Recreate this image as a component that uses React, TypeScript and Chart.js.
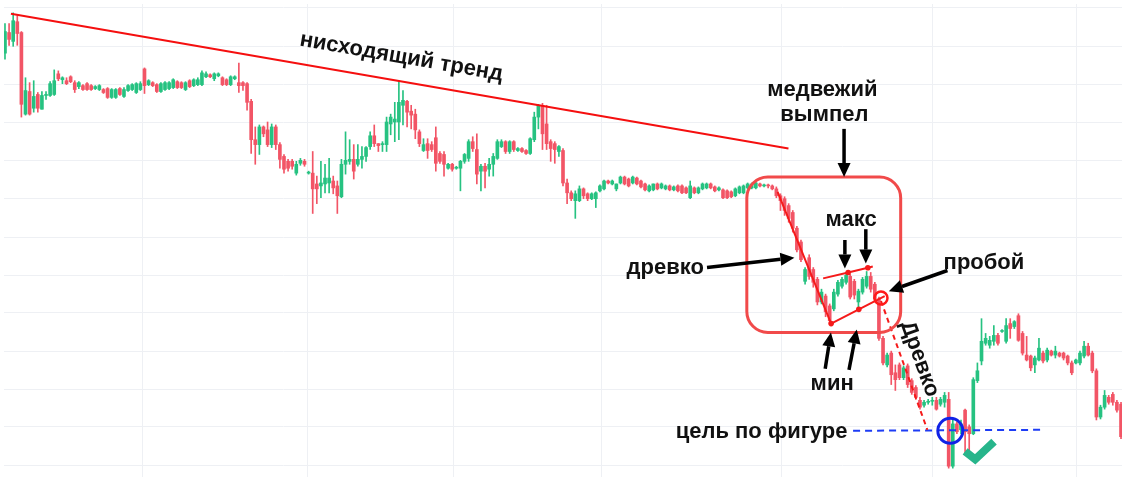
import React, { useEffect, useRef } from 'react';
import { Chart, registerables } from 'chart.js';

Chart.register(...registerables);

// ---- candle data (price units) ----
const opens = [
  430, 451, 442, 462, 451, 368, 391, 374, 388, 373,
  387, 387, 388, 409, 403, 402, 406, 400, 396, 397,
  399, 397, 394, 393, 393, 394, 385, 385, 394, 386,
  392, 393, 390, 393, 414, 398, 400, 398, 391, 393,
  394, 395, 401, 400, 393, 402, 397, 398, 398, 406,
  408, 404, 407, 405, 403, 398, 404, 400, 400, 399,
  381, 342, 337, 355, 352, 337, 355, 337, 325, 320,
  320, 308, 318, 320, 308, 308, 297, 295, 297, 298,
  300, 295, 284, 317, 320, 322, 317, 322, 325, 335,
  346, 338, 337, 337, 358, 360, 360, 377, 381, 371,
  368, 350, 331, 338, 337, 344, 328, 327, 313, 317,
  313, 313, 320, 323, 340, 332, 310, 315, 312, 317,
  323, 335, 340, 330, 340, 331, 333, 331, 328, 342,
  365, 377, 358, 340, 338, 330, 331, 298, 288, 280,
  280, 292, 287, 282, 282, 290, 292, 300, 297, 292,
  298, 304, 302, 298, 303, 300, 297, 290, 291, 297,
  293, 292, 295, 291, 295, 295, 293, 283, 293, 288,
  292, 293, 297, 294, 291, 291, 290, 289, 285, 288,
  288, 293, 293, 293, 297, 295, 296, 295, 292, 285,
  282, 275, 268, 252, 238, 198, 222, 210, 200, 177,
  183, 173, 170, 185, 193, 197, 203, 198, 177, 187,
  193, 203, 195, 180, 140, 113, 125, 105, 113, 100,
  112, 97, 90, 77, 72, 75, 76, 77, 73, 75,
  78, 10, 53, 47, 67, 50, 43, 97, 117, 135,
  133, 137, 143, 147, 137, 155, 152, 163, 145, 123,
  122, 113, 118, 125, 118, 127, 123, 125, 125, 122,
  115, 115, 115, 122, 132, 125, 107, 60, 70, 80,
  83, 75, 73,
];
const closes = [
  452, 444, 463, 450, 378, 392, 368, 386, 374, 387,
  388, 399, 402, 404, 405, 399, 401, 393, 400, 393,
  393, 393, 396, 397, 390, 385, 393, 393, 388, 393,
  397, 398, 399, 399, 397, 402, 397, 391, 399, 400,
  400, 403, 395, 395, 400, 396, 403, 403, 410, 409,
  406, 409, 409, 398, 398, 406, 406, 397, 397, 380,
  342, 337, 355, 348, 337, 355, 337, 322, 312, 313,
  315, 317, 321, 317, 309, 292, 292, 298, 303, 303,
  293, 285, 317, 321, 322, 310, 322, 325, 334, 346,
  338, 336, 338, 360, 365, 363, 380, 382, 370, 367,
  352, 338, 337, 331, 332, 318, 320, 317, 317, 312,
  314, 320, 327, 340, 333, 307, 315, 310, 317, 325,
  340, 340, 330, 340, 332, 333, 330, 328, 343, 365,
  377, 348, 338, 333, 332, 335, 298, 288, 282, 287,
  292, 285, 282, 287, 288, 295, 300, 298, 300, 297,
  304, 297, 295, 304, 297, 294, 291, 295, 297, 292,
  297, 295, 291, 294, 290, 288, 288, 295, 288, 293,
  297, 297, 293, 290, 293, 283, 283, 284, 292, 294,
  295, 297, 297, 298, 295, 296, 295, 292, 285, 280,
  270, 262, 252, 230, 220, 210, 203, 197, 177, 187,
  167, 158, 187, 197, 200, 204, 182, 184, 188, 200,
  203, 190, 180, 140, 115, 123, 103, 98, 100, 110,
  93, 85, 80, 70, 75, 76, 77, 68, 78, 82,
  10, 53, 45, 53, 45, 43, 98, 107, 137, 140,
  138, 143, 135, 148, 153, 150, 157, 138, 125, 118,
  110, 120, 130, 117, 128, 123, 127, 122, 120, 115,
  105, 118, 125, 132, 123, 107, 60, 70, 82, 75,
  75, 67, 40,
];
const highs = [
  460, 460, 471, 468, 452, 405, 400, 402, 390, 391,
  391, 401, 413, 412, 406, 405, 407, 402, 401, 398,
  400, 398, 397, 398, 394, 395, 394, 394, 395, 395,
  398, 399, 400, 401, 415, 403, 401, 399, 400, 401,
  401, 404, 402, 401, 401, 403, 404, 405, 412, 411,
  409, 410, 410, 406, 404, 407, 407, 420, 401, 400,
  383, 355, 357, 356, 360, 358, 357, 339, 327, 322,
  322, 320, 323, 322, 310, 330, 305, 320, 317, 323,
  305, 300, 322, 350, 342, 337, 337, 335, 335, 350,
  357, 338, 340, 365, 368, 380, 402, 392, 382, 377,
  373, 352, 343, 343, 340, 355, 330, 330, 318, 318,
  315, 321, 328, 342, 345, 348, 317, 318, 323, 328,
  342, 342, 341, 341, 341, 334, 334, 332, 344, 370,
  378, 379, 377, 342, 340, 336, 333, 302, 290, 290,
  295, 293, 288, 288, 289, 296, 301, 301, 301, 297,
  305, 305, 303, 305, 304, 301, 298, 296, 297, 298,
  298, 296, 296, 295, 296, 296, 294, 300, 294, 294,
  298, 298, 298, 295, 294, 292, 291, 290, 293, 295,
  296, 298, 298, 299, 298, 297, 297, 296, 294, 287,
  284, 277, 270, 254, 240, 212, 225, 212, 202, 190,
  185, 175, 190, 199, 202, 207, 205, 200, 190, 202,
  208, 207, 197, 182, 142, 125, 127, 113, 115, 112,
  114, 99, 92, 80, 77, 78, 80, 80, 80, 85,
  85, 58, 55, 57, 68, 52, 100, 115, 160, 145,
  142, 153, 145, 149, 160, 160, 158, 165, 147, 142,
  123, 122, 140, 127, 130, 128, 132, 126, 126, 123,
  117, 119, 127, 137, 135, 127, 109, 72, 87, 82,
  85, 77, 75,
];
const lows = [
  424, 438, 437, 438, 365, 367, 367, 370, 370, 373,
  383, 386, 387, 402, 399, 398, 400, 390, 394, 392,
  392, 392, 393, 392, 389, 384, 384, 384, 387, 385,
  391, 392, 389, 392, 389, 397, 396, 390, 390, 392,
  393, 394, 394, 394, 392, 395, 396, 397, 397, 405,
  405, 402, 406, 397, 397, 397, 403, 390, 392, 372,
  328, 317, 327, 345, 335, 334, 332, 313, 308, 310,
  312, 306, 316, 315, 307, 267, 277, 283, 288, 288,
  287, 267, 283, 307, 317, 302, 315, 313, 320, 332,
  335, 330, 330, 330, 347, 340, 342, 357, 355, 353,
  343, 335, 330, 323, 330, 310, 318, 305, 312, 310,
  312, 290, 318, 320, 330, 297, 290, 293, 305, 305,
  322, 334, 328, 328, 330, 330, 329, 327, 327, 340,
  353, 332, 332, 320, 318, 325, 295, 277, 280, 262,
  279, 282, 280, 281, 273, 289, 291, 297, 296, 290,
  297, 296, 294, 297, 296, 293, 290, 289, 290, 291,
  292, 291, 290, 290, 289, 287, 287, 282, 287, 287,
  291, 292, 292, 289, 290, 282, 282, 283, 284, 287,
  287, 292, 292, 292, 294, 294, 293, 291, 283, 270,
  265, 258, 248, 228, 218, 195, 200, 192, 174, 175,
  162, 155, 168, 183, 191, 195, 180, 180, 172, 185,
  191, 187, 177, 138, 113, 111, 93, 87, 98, 98,
  90, 83, 78, 68, 70, 73, 72, 67, 71, 70,
  8, 8, 43, 43, 23, 23, 42, 95, 113, 133,
  130, 133, 133, 146, 135, 140, 150, 137, 123, 117,
  107, 105, 117, 115, 116, 122, 120, 121, 118, 113,
  103, 114, 113, 120, 122, 105, 57, 58, 68, 73,
  72, 65, 38,
];

// gridline values (price axis) and time-gridline positions (candle index)
const priceGrid = [476, 437, 398, 359, 321, 282, 243, 204, 166, 127, 88, 50, 11];
const timeGrid = [33.6, 73.8, 109.4, 145.5, 189.3, 226.0, 261.1];

// drawn lines (candle index, price)
const trendLine = [{ x: 1.45, y: 470 }, { x: 190.95, y: 333 }];
const flagpole = [{ x: 188.3, y: 289 }, { x: 201.35, y: 155 }];
const pennantTop = [{ x: 199.4, y: 201 }, { x: 205.5, y: 207 }, { x: 210.3, y: 211.8 }, { x: 211.5, y: 213 }];
const pennantBottom = [{ x: 201.35, y: 155 }, { x: 208.1, y: 169.5 }, { x: 214.4, y: 183 }];
const breakoutPole = [{ x: 213.5, y: 178 }, { x: 224.8, y: 47 }];
const targetLine = [{ x: 206.7, y: 46 }, { x: 253.4, y: 47 }];

// annotations
const labels = [
  { text: 'медвежий', x: 199.2, y: 393 },
  { text: 'вымпел', x: 199.7, y: 367 },
  { text: 'макс', x: 206.2, y: 260 },
  { text: 'древко', x: 160.9, y: 212 },
  { text: 'пробой', x: 238.6, y: 217 },
  { text: 'мин', x: 201.6, y: 94 },
  { text: 'цель по фигуре', x: 184.4, y: 45 },
];
const trendLabel = { text: 'нисходящий тренд', x: 96.6, y: 426 };
const poleLabel = { text: 'Древко', x: 222.9, y: 119 };
const arrows = [
  { x1: 204.5, y1: 353, x2: 204.5, y2: 304 },
  { x1: 204.7, y1: 240, x2: 204.7, y2: 211 },
  { x1: 209.8, y1: 251, x2: 209.8, y2: 216 },
  { x1: 171.1, y1: 212, x2: 192.4, y2: 222 },
  { x1: 229.7, y1: 209, x2: 215.4, y2: 188 },
  { x1: 199.9, y1: 109, x2: 201.3, y2: 146 },
  { x1: 205.7, y1: 108, x2: 207.6, y2: 149 },
];
const pennantBox = { x1: 180.8, y1: 304, x2: 218.3, y2: 146 };
const breakoutCircle = { x: 213.5, y: 181 };
const targetCircle = { x: 230.4, y: 46 };
const checkMark = [{ x: 234.0, y: 25 }, { x: 236.45, y: 17 }, { x: 241.05, y: 35 }];

const UP = '#26c281';
const DOWN = '#f25566';
const FONT = 'bold 22px "Liberation Sans", Arial, sans-serif';

const annotationPlugin = {
  id: 'patternAnnotations',
  afterDatasetsDraw(chart: any) {
    const { ctx, scales } = chart;
    const X = (v: number) => scales.x.getPixelForValue(v);
    const Y = (v: number) => scales.y.getPixelForValue(v);
    ctx.save();

    // rounded box
    const bx1 = X(pennantBox.x1), by1 = Y(pennantBox.y1), bx2 = X(pennantBox.x2), by2 = Y(pennantBox.y2);
    ctx.strokeStyle = '#f14a4a';
    ctx.lineWidth = 3;
    ctx.beginPath();
    (ctx as any).roundRect(bx1, by1, bx2 - bx1, by2 - by1, 21);
    ctx.stroke();

    // breakout circle
    ctx.strokeStyle = '#ff1a1a';
    ctx.lineWidth = 2.5;
    ctx.beginPath();
    ctx.arc(X(breakoutCircle.x), Y(breakoutCircle.y), 6.5, 0, Math.PI * 2);
    ctx.stroke();

    // target circle
    ctx.strokeStyle = '#1022e6';
    ctx.lineWidth = 3;
    ctx.beginPath();
    ctx.arc(X(targetCircle.x), Y(targetCircle.y), 12.5, 0, Math.PI * 2);
    ctx.stroke();

    // check mark
    ctx.strokeStyle = '#27b58b';
    ctx.lineWidth = 8;
    ctx.lineJoin = 'miter';
    ctx.lineCap = 'butt';
    ctx.beginPath();
    checkMark.forEach((p, i) => (i ? ctx.lineTo(X(p.x), Y(p.y)) : ctx.moveTo(X(p.x), Y(p.y))));
    ctx.stroke();

    // arrows
    ctx.strokeStyle = '#000';
    ctx.fillStyle = '#000';
    arrows.forEach((a) => {
      const x1 = X(a.x1), y1 = Y(a.y1), x2 = X(a.x2), y2 = Y(a.y2);
      const ang = Math.atan2(y2 - y1, x2 - x1);
      const head = 14, hw = 6.5;
      const hx = x2 - head * Math.cos(ang), hy = y2 - head * Math.sin(ang);
      ctx.lineWidth = 3.5;
      ctx.lineCap = 'butt';
      ctx.beginPath();
      ctx.moveTo(x1, y1);
      ctx.lineTo(hx, hy);
      ctx.stroke();
      ctx.beginPath();
      ctx.moveTo(x2, y2);
      ctx.lineTo(hx + hw * Math.sin(ang), hy - hw * Math.cos(ang));
      ctx.lineTo(hx - hw * Math.sin(ang), hy + hw * Math.cos(ang));
      ctx.closePath();
      ctx.fill();
    });

    // labels
    ctx.font = FONT;
    ctx.fillStyle = '#111';
    ctx.textAlign = 'center';
    ctx.textBaseline = 'alphabetic';
    const off = 6;
    labels.forEach((l) => ctx.fillText(l.text, X(l.x), Y(l.y) + off));

    const drawRotated = (l: any, from: any[]) => {
      const ang = Math.atan2(Y(from[1].y) - Y(from[0].y), X(from[1].x) - X(from[0].x));
      ctx.save();
      ctx.translate(X(l.x), Y(l.y));
      ctx.rotate(ang);
      ctx.fillText(l.text, 0, off);
      ctx.restore();
    };
    drawRotated(trendLabel, trendLine);
    drawRotated(poleLabel, breakoutPole);

    ctx.restore();
  },
};

export default function App() {
  const ref = useRef<HTMLCanvasElement>(null);
  useEffect(() => {
    document.body.style.margin = '0';
    const idx = opens.map((_, i) => i);
    const colors = idx.map((i) => (closes[i] >= opens[i] ? UP : DOWN));
    const lineDs = (data: any[], color: string, extra: any = {}) => ({
      type: 'line',
      data,
      borderColor: color,
      backgroundColor: color,
      borderWidth: 2,
      pointRadius: 0,
      tension: 0,
      order: 0,
      ...extra,
    });
    const chart = new Chart(ref.current as HTMLCanvasElement, {
      type: 'bar',
      data: {
        datasets: [
          lineDs(trendLine, '#f50f0f'),
          lineDs(flagpole, '#f51a1a'),
          lineDs(pennantTop, '#f51a1a', { pointRadius: [0, 2.8, 2.8, 0], pointBorderWidth: 0 }),
          lineDs(pennantBottom, '#f51a1a', { pointRadius: [2.8, 2.8, 0], pointBorderWidth: 0 }),
          lineDs(breakoutPole, '#f51a1a', { borderDash: [5, 4] }),
          lineDs(targetLine, '#1d3cf5', { borderDash: [7, 5] }),
          {
            type: 'bar',
            data: idx.map((i) => ({ x: i, y: [opens[i], closes[i]] })),
            backgroundColor: colors,
            barThickness: 3,
            minBarLength: 1,
            grouped: false,
            order: 1,
          },
          {
            type: 'bar',
            data: idx.map((i) => ({ x: i, y: [lows[i], highs[i]] })),
            backgroundColor: colors,
            barThickness: 1,
            grouped: false,
            order: 2,
          },
        ] as any,
      },
      options: {
        responsive: false,
        animation: false,
        devicePixelRatio: 1,
        layout: { padding: 0 },
        plugins: { legend: { display: false }, tooltip: { enabled: false } },
        events: [],
        scales: {
          x: {
            type: 'linear',
            min: -0.24,
            max: 272.24,
            offset: false,
            afterBuildTicks: (s: any) => {
              s.ticks = timeGrid.map((v) => ({ value: v }));
            },
            ticks: { display: false },
            grid: { color: '#eef0f4', drawTicks: false, lineWidth: 1, offset: false },
            border: { display: false },
          },
          y: {
            type: 'linear',
            min: -1,
            max: 480,
            afterBuildTicks: (s: any) => {
              s.ticks = priceGrid.map((v) => ({ value: v }));
            },
            ticks: { display: false },
            grid: { color: '#eef0f4', drawTicks: false, lineWidth: 1, offset: false },
            border: { display: false },
          },
        },
      } as any,
      plugins: [annotationPlugin],
    });
    return () => chart.destroy();
  }, []);
  return (
    <div style={{ width: 1126, height: 481, background: '#fff' }}>
      <canvas ref={ref} width={1126} height={481} style={{ display: 'block' }} />
    </div>
  );
}
